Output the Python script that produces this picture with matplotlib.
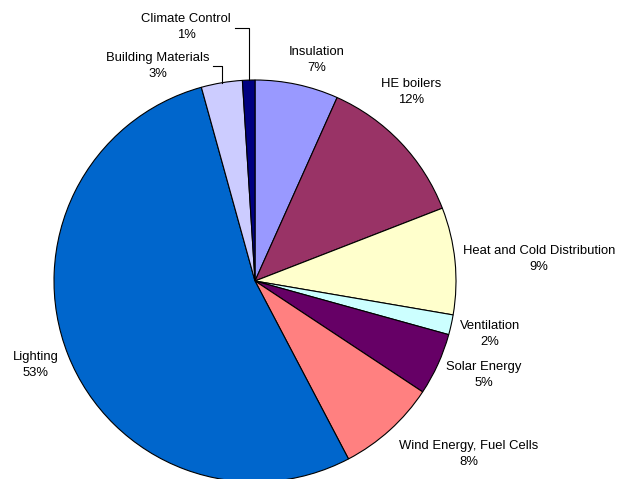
import numpy as np
import matplotlib
matplotlib.use("Agg")
import matplotlib.pyplot as plt

plt.rcParams["font.family"] = ["Liberation Sans", "DejaVu Sans"]

# share of projects per technology area (%)
categories = [
    "Insulation", "HE boilers", "Heat and Cold Distribution", "Ventilation",
    "Solar Energy", "Wind Energy, Fuel Cells", "Lighting",
    "Building Materials", "Climate Control",
]
shares = [6.7, 12.4, 8.6, 1.6, 5.0, 8.0, 53.4, 3.3, 1.0]
colors = ["#9999FF", "#993366", "#FFFFCC", "#CCFFFF", "#660066",
          "#FF8080", "#0066CC", "#CCCCFF", "#000080"]

# label block centres in pixels (x from left, y from top)
label_px = [(317, 60), (411, 92), (539, 259), (490, 334), (484, 375),
            (469, 454), (36, 365), (158, 66), (186, 27)]
# leader lines: slice index -> (start x, y) in pixels
leaders = {7: (213, 66), 8: (235, 28)}

W, H = 620, 479
CX, CY, R = 255, 281, 201  # pie centre and radius in pixels


def to_data(px, py):
    return (px - CX) / R, (CY - py) / R


fig = plt.figure(figsize=(W / 100, H / 100), dpi=100)
ax = fig.add_axes([0, 0, 1, 1])
ax.pie(shares, colors=colors, startangle=90, counterclock=False, radius=1,
       wedgeprops=dict(edgecolor="black", linewidth=0.8))
ax.set_xlim(-CX / R, (W - CX) / R)
ax.set_ylim(-(H - CY) / R, CY / R)
ax.set_aspect("equal")
ax.axis("off")

total = sum(shares)
cum = np.cumsum([0] + shares)
for i, (name, val) in enumerate(zip(categories, shares)):
    pct = int(np.floor(val / total * 100 + 0.5))
    x, y = to_data(*label_px[i])
    ax.text(x, y, f"{name}\n{pct}%", ha="center", va="center",
            fontsize=9.4, linespacing=1.38, color="black")
    if i in leaders:
        mid = (cum[i] + cum[i + 1]) / 2 / total * 2 * np.pi
        ex, ey = np.sin(mid), np.cos(mid)
        sx, sy = to_data(*leaders[i])
        ax.plot([sx, ex, ex], [sy, sy, ey], color="black", linewidth=0.8)

fig.savefig("out.png", dpi=100)
